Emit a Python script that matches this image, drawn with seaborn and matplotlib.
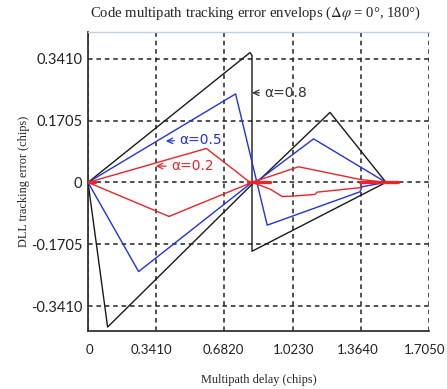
import matplotlib
matplotlib.use("Agg")
import matplotlib.pyplot as plt
import matplotlib.transforms as mtransforms
import seaborn as sns
import numpy as np

# ---- data ----
x_ticks = [0, 0.341, 0.682, 1.023, 1.364, 1.705]
x_tick_labels = ["0", "0.3410", "0.6820", "1.0230", "1.3640", "1.7050"]
y_ticks = [0.341, 0.1705, 0, -0.1705, -0.341]
y_tick_labels = ["0.3410", "0.1705", "0", "-0.1705", "-0.3410"]

# alpha = 0.8 (black)
blk_a_x = [0, 0.81, 0.82, 0.82, 1.49]
blk_a_y = [0, 0.358, 0.35, -0.19, 0]
blk_b_x = [0, 0.098, 0.83, 0.86, 1.21, 1.49]
blk_b_y = [0, -0.399, 0, 0.008, 0.193, 0]

# alpha = 0.5 (blue)
blu_a_x = [0, 0.738, 0.896, 1.36, 1.37, 1.49]
blu_a_y = [0, 0.244, -0.118, -0.026, -0.012, 0]
blu_b_x = [0, 0.253, 0.82, 0.85, 1.128, 1.49]
blu_b_y = [0, -0.246, 0, 0.005, 0.120, 0]

# alpha = 0.2 (red)
red_a_x = [0, 0.592, 0.81, 0.823, 0.912, 0.971, 1.02, 1.137, 1.145, 1.361, 1.369, 1.49]
red_a_y = [0, 0.0935, 0, 0, -0.019, -0.039, -0.038, -0.033, -0.027, -0.0146, 0, 0]
red_b_x = [0, 0.405, 0.82, 1.053, 1.361, 1.49]
red_b_y = [0, -0.094, 0, 0.043, 0.008, 0]
red_zero_segments = [(0, 0.035), (0.80, 0.91), (1.36, 1.55)]

labels = ["α=0.8", "α=0.5", "α=0.2"]
label_tips = [(0.82, 0.247), (0.389, 0.114), (0.339, 0.045)]
label_text_pos = [(0.88, 0.247), (0.455, 0.117), (0.414, 0.045)]

# ---- plotting ----
sns.set_style("white")
plt.rcParams["font.family"] = ["Lato", "DejaVu Sans"]
plt.rcParams["mathtext.fontset"] = "stix"

fig = plt.figure(figsize=(4.47, 3.89), dpi=100)
ax = fig.add_axes([0.1969, 0.149, 0.7628, 0.769])

black = "#1a1a1a"
blue = "#2233dd"
red = "#e8262a"

for xs, ys, c in [(blk_a_x, blk_a_y, black), (blk_b_x, blk_b_y, black),
                  (blu_a_x, blu_a_y, blue), (blu_b_x, blu_b_y, blue),
                  (red_a_x, red_a_y, red), (red_b_x, red_b_y, red)]:
    sns.lineplot(x=xs, y=ys, sort=False, estimator=None, color=c, lw=1.0, ax=ax, zorder=3)

for x0, x1 in red_zero_segments:
    sns.lineplot(x=[x0, x1], y=[0, 0], sort=False, estimator=None, color=red, lw=2.4, ax=ax, zorder=4)

ax.set_xlim(0, 1.705)
ax.set_ylim(-0.41, 0.415)
ax.set_xticks(x_ticks)
ax.set_xticklabels(x_tick_labels)
ax.set_yticks(y_ticks)
ax.set_yticklabels(y_tick_labels)
ax.tick_params(axis="both", length=0, colors="#222222")
ax.tick_params(axis="x", pad=9, labelsize=9.5)
ax.tick_params(axis="y", pad=4, labelsize=10.5)

# small horizontal nudges of x tick labels as in the reference
x_shift_px = [1, -5, -1, 1, -3, -4]
for lab, dx in zip(ax.get_xticklabels(), x_shift_px):
    lab.set_transform(lab.get_transform() + mtransforms.ScaledTranslation(dx / 100, 0, fig.dpi_scale_trans))

ax.grid(True, color="#222222", linestyle=(0, (3, 2.5)), lw=1.1)
ax.set_axisbelow(True)

for s in ["left", "bottom"]:
    ax.spines[s].set_color("#333333")
    ax.spines[s].set_linewidth(1.3)
ax.spines["top"].set_color("#c5d0dc")
ax.spines["top"].set_linewidth(1.0)
ax.spines["right"].set_visible(False)

serif = ["Liberation Serif", "DejaVu Serif"]
ax.set_title("Code multipath tracking error envelops ($\\Delta\\varphi$ = 0°, 180°)",
             family=serif, fontsize=10.6, pad=11, x=0.49)
ax.set_xlabel("Multipath delay (chips)", family=serif, fontsize=8.8, labelpad=13)
ax.set_ylabel("DLL tracking error (chips)", family=serif, fontsize=8.8, labelpad=1)

for lab, tip, pos, c in zip(labels, label_tips, label_text_pos, ["#333333", blue, red]):
    ax.annotate(lab, xy=tip, xytext=pos, ha="left", va="center", fontsize=10,
                color=c, family=["DejaVu Sans"],
                arrowprops=dict(arrowstyle="->", color=c, lw=0.9, shrinkA=1, shrinkB=0))

fig.savefig("out.png", dpi=100)
